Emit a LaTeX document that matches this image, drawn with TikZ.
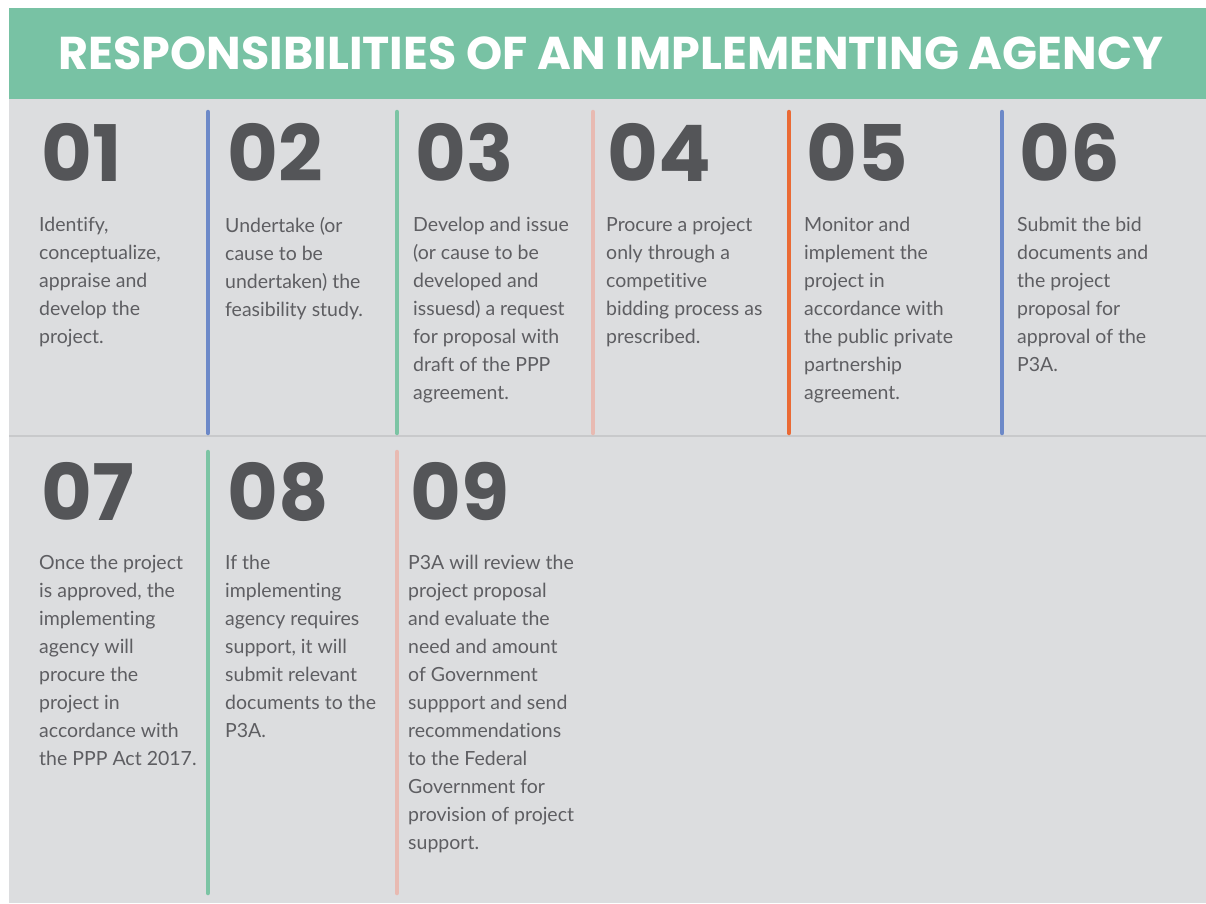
\documentclass[tikz,border=0pt]{standalone}
\usepackage{fontspec}
\setmainfont{Lato}[Ligatures=CommonOff]
\newfontfamily\numfont{Poppins}
\definecolor{bandgreen}{HTML}{78C2A4}
\definecolor{panelgray}{HTML}{DCDDDF}
\definecolor{numgray}{HTML}{545558}
\definecolor{txtgray}{HTML}{5E5E62}
\definecolor{rulegray}{HTML}{C8C9CB}
\definecolor{lineblue}{HTML}{6D89C8}
\definecolor{linegreen}{HTML}{7CC4A4}
\definecolor{linepink}{HTML}{E8BAB2}
\definecolor{lineorange}{HTML}{EA6A35}
\begin{document}
\begin{tikzpicture}[x=1pt,y=-1pt,
    num/.style={anchor=base west, inner sep=0pt, text=numgray,
        font=\numfont\bfseries\fontsize{78}{78}\selectfont},
    txt/.style={anchor=north west, inner sep=0pt, align=left, text=txtgray,
        font=\fontsize{19.5}{28}\selectfont, execute at begin node=\strut},
    sep/.style={line width=4.5pt, line cap=round}]
    \useasboundingbox (0,0) rectangle (1206,903);
    % background and title band
    \fill[white] (0,0) rectangle (1206,903);
    \fill[panelgray] (9,99) rectangle (1206,903);
    \fill[bandgreen] (9,8) rectangle (1206,99);
    \node[text=white, font=\numfont\bfseries\fontsize{46}{46}\selectfont] (title) at (611,53)
        {RESPONSIBILITIES OF AN IMPLEMENTING AGENCY};
    \coordinate (divl) at (9,436); \coordinate (divr) at (1206,436);
    \draw[rulegray, line width=1.5pt] (divl)--(divr);

    % top row separators
    \foreach \x/\c [count=\i] in {208/lineblue,397/linegreen,593/linepink,789/lineorange,1002/lineblue}{
        \coordinate (ta\i) at (\x,112); \coordinate (tb\i) at (\x,433);
        \draw[sep, \c] (ta\i)--(tb\i);
    }
    % bottom row separators
    \foreach \x/\c [count=\i] in {208/linegreen,397/linepink}{
        \coordinate (ba\i) at (\x,452); \coordinate (bb\i) at (\x,893);
        \draw[sep, \c] (ba\i)--(bb\i);
    }

    % top row
    \node[num] (n1) at (41,181) {01};
    \node[txt] (t1) at (39,217) {Identify,\\conceptualize,\\appraise and\\develop the\\project.};
    \node[num] (n2) at (227,181) {02};
    \node[txt] (t2) at (225,217) {Undertake (or\\cause to be\\undertaken) the\\feasibility study.};
    \node[num] (n3) at (415,181) {03};
    \node[txt] (t3) at (413,217) {Develop and issue\\(or cause to be\\developed and\\issuesd) a request\\for proposal with\\draft of the PPP\\agreement.};
    \node[num] (n4) at (607,181) {04};
    \node[txt] (t4) at (606,217) {Procure a project\\only through a\\competitive\\bidding process as\\prescribed.};
    \node[num] (n5) at (806,181) {05};
    \node[txt] (t5) at (804,217) {Monitor and\\implement the\\project in\\accordance with\\the public private\\partnership\\agreement.};
    \node[num] (n6) at (1019,181) {06};
    \node[txt] (t6) at (1017,217) {Submit the bid\\documents and\\the project\\proposal for\\approval of the\\P3A.};

    % bottom row
    \node[num] (n7) at (41,520) {07};
    \node[txt] (t7) at (39,555) {Once the project\\is approved, the\\implementing\\agency will\\procure the\\project in\\accordance with\\the PPP Act 2017.};
    \node[num] (n8) at (227,520) {08};
    \node[txt] (t8) at (225,555) {If the\\implementing\\agency requires\\support, it will\\submit relevant\\documents to the\\P3A.};
    \node[num] (n9) at (410,520) {09};
    \node[txt] (t9) at (408,555) {P3A will review the\\project proposal\\and evaluate the\\need and amount\\of Government\\suppport and send\\recommendations\\to the Federal\\Government for\\provision of project\\support.};
\end{tikzpicture}
\end{document}
